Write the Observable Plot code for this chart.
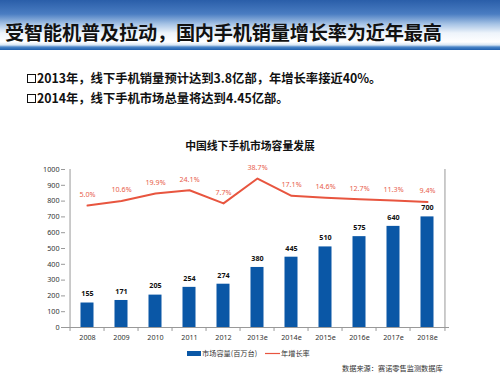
<!DOCTYPE html>
<html><head><meta charset="utf-8">
<script src="https://cdn.jsdelivr.net/npm/d3@7"></script>
<script src="https://cdn.jsdelivr.net/npm/@observablehq/plot@0.6"></script>
<style>
body{margin:0;width:500px;height:375px;position:relative;overflow:hidden;background:#fff;font-family:"Noto Sans CJK SC","Noto Sans",sans-serif;}
#hdr{position:absolute;left:0;top:0;width:500px;height:50px;background:linear-gradient(to bottom,#2a5ea9 0px,#4a7dc2 14px,#a6c3e5 24px,#eef4fb 33px,#ffffff 42px,#d8e6f4 45px,#4b86c8 47px,#1f5fae 50px);}
#title{position:absolute;left:5px;top:18px;font-size:19.2px;font-weight:bold;color:#111;white-space:nowrap;letter-spacing:-0.2px;}
.bul{position:absolute;left:27px;font-size:12.3px;font-weight:bold;color:#111;white-space:nowrap;}
.box{display:inline-block;width:7px;height:7px;border:1.6px solid #111;margin-right:1px;vertical-align:0px;}
#ctitle{position:absolute;left:0;width:500px;text-align:center;top:137px;font-size:10.8px;font-weight:bold;color:#111;}
#chart{position:absolute;left:0;top:155px;}
#legend{position:absolute;left:0;top:346px;width:500px;font-size:7.2px;color:#333;}
#src{position:absolute;left:342px;top:363px;font-size:7.2px;color:#333;white-space:nowrap;}
</style></head>
<body>
<div id="hdr"></div>
<div id="title">受智能机普及拉动，国内手机销量增长率为近年最高</div>
<div class="bul" style="top:69px"><span class="box"></span>2013年，线下手机销量预计达到3.8亿部，年增长率接近40%。</div>
<div class="bul" style="top:89px"><span class="box"></span>2014年，线下手机市场总量将达到4.45亿部。</div>
<div id="ctitle">中国线下手机市场容量发展</div>
<div id="chart"></div>
<div id="legend"></div>
<div id="src">数据来源：赛诺零售监测数据库</div>
<script>
const years = ["2008","2009","2010","2011","2012","2013e","2014e","2015e","2016e","2017e","2018e"];
const capacity = [155,171,205,254,274,380,445,510,575,640,700];
const growth = [5.0,10.6,19.9,24.1,7.7,38.7,17.1,14.6,12.7,11.3,9.4];
const yTicks = [0,100,200,300,400,500,600,700,800,900,1000];
const seriesNames = ["市场容量(百万台)","年增长率"];
const colors = ["#0a57a6","#e8553f"];

// hidden secondary axis for growth rate, mapped onto the primary axis
const rateToPrimary = r => 746.6 + 5.07 * r;

const data = years.map((y,i)=>({year:y, cap:capacity[i], rate:growth[i], ry:rateToPrimary(growth[i])}));

const W=500, H=195, mL=65, mR=51, mT=14, mB=23;
const step = (W-mL-mR)/years.length;

const plot = Plot.plot({
  width: W, height: H,
  marginLeft: mL, marginRight: mR, marginTop: mT, marginBottom: mB,
  style: {fontFamily: "'Noto Sans','DejaVu Sans',sans-serif", fontSize: "7.2px", color: "#333", background: "transparent"},
  x: {type: "band", domain: years, padding: 0, label: null},
  y: {domain: [0,1000], label: null},
  marks: [
    Plot.barY(data, {x: "year", y: "cap", fill: colors[0], insetLeft: 10.5, insetRight: 10.5}),
    Plot.ruleY([0], {stroke: "#999", strokeWidth: 1}),
    Plot.ruleX([years[0]], {x: d=>d, y1: 0, y2: 1000, dx: -step/2, stroke: "#999"}),
    Plot.ruleX([years[years.length-1]], {x: d=>d, y1: 0, y2: 1000, dx: step/2, stroke: "#999"}),
    Plot.ruleX(years, {x: d=>d, y1: 0, y2: -25, dx: -step/2, stroke: "#999"}),
    Plot.ruleX([years[years.length-1]], {x: d=>d, y1: 0, y2: -25, dx: step/2, stroke: "#999"}),
    Plot.axisY({ticks: yTicks, tickFormat: d=>String(d), tickSize: 4, tickPadding: 2, stroke: "#999", fill: "#333", fontSize: 7.2}),
    Plot.axisX({tickSize: 0, tickPadding: 7, fill: "#333", fontSize: 7.2}),
    Plot.line(data, {x: "year", y: "ry", stroke: colors[1], strokeWidth: 2}),
    Plot.text(data, {x: "year", y: "cap", text: d=>String(d.cap), dy: -9, fill: "#111", fontWeight: "bold", fontSize: 7.2}),
    Plot.text(data, {x: "year", y: "ry", text: d=>d.rate.toFixed(1)+"%", dy: -11, fill: "#e8604c", fontSize: 7.2})
  ]
});
document.getElementById("chart").appendChild(plot);

// legend
const lg = d3.select("#legend").append("svg").attr("width",500).attr("height",14);
const g1 = lg.append("g");
g1.append("rect").attr("x",187).attr("y",5).attr("width",14).attr("height",5).attr("fill",colors[0]);
g1.append("text").attr("x",202).attr("y",10).text(seriesNames[0]).attr("font-size",7.2).attr("fill","#333").attr("font-family","'Noto Sans CJK SC',sans-serif");
g1.append("line").attr("x1",265).attr("x2",280).attr("y1",7.5).attr("y2",7.5).attr("stroke",colors[1]).attr("stroke-width",1.2);
g1.append("text").attr("x",281).attr("y",10).text(seriesNames[1]).attr("font-size",7.2).attr("fill","#333").attr("font-family","'Noto Sans CJK SC',sans-serif");
</script>
</body></html>
